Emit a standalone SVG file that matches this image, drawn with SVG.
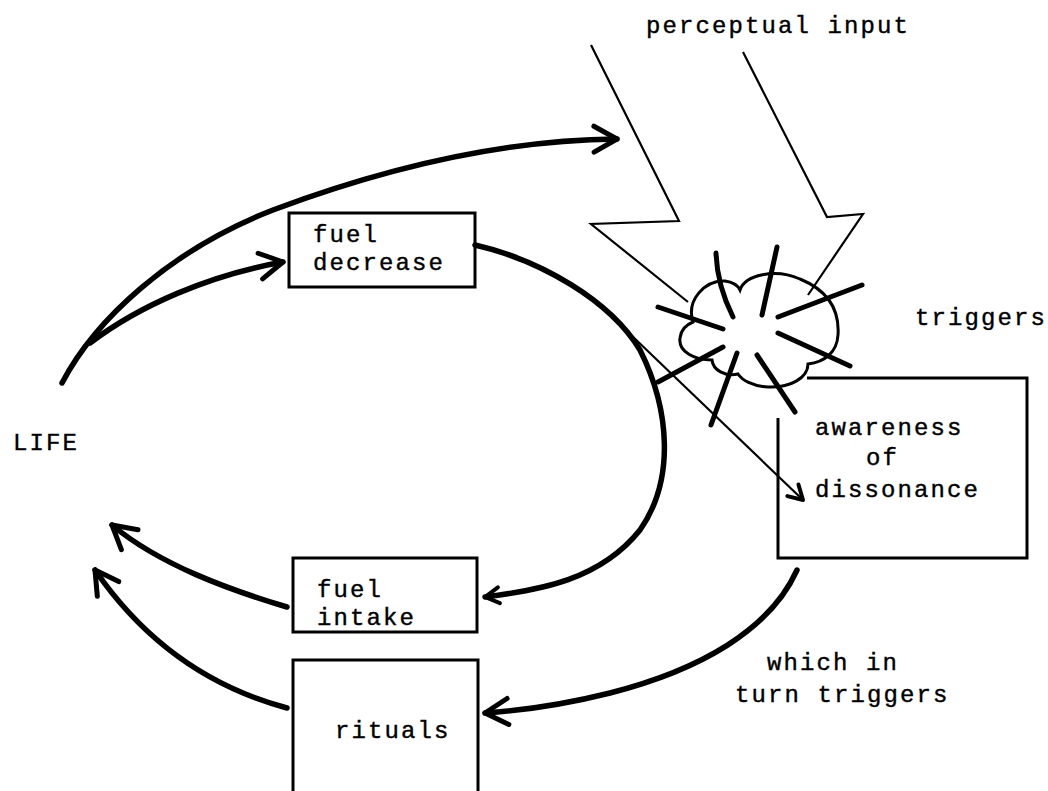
<svg xmlns="http://www.w3.org/2000/svg" width="1048" height="791" viewBox="0 0 1048 791">
<style>
.t{font-family:"Liberation Mono","Courier New",monospace;font-size:24px;letter-spacing:2.1px;fill:#000;stroke:#000;stroke-width:0.4}
.box{fill:none;stroke:#000;stroke-width:3}
.thick{fill:none;stroke:#000;stroke-width:5.5;stroke-linecap:round;stroke-linejoin:round}
.thin{fill:none;stroke:#000;stroke-width:2.2;stroke-linejoin:miter}
.ray{fill:none;stroke:#000;stroke-width:5;stroke-linecap:round}
</style>
<defs>
<marker id="ah" markerUnits="userSpaceOnUse" markerWidth="40" markerHeight="40" viewBox="-30 -20 40 40" refX="0" refY="0" orient="auto" overflow="visible">
<path d="M-23,-13 L0,0 L-23,13" fill="none" stroke="#000" stroke-width="5" stroke-linecap="round" stroke-linejoin="round"/>
</marker>
<marker id="ahs" markerUnits="userSpaceOnUse" markerWidth="30" markerHeight="30" viewBox="-20 -15 30 30" refX="0" refY="0" orient="auto" overflow="visible">
<path d="M-14,-8 L0,0 L-14,8" fill="none" stroke="#000" stroke-width="4" stroke-linecap="round" stroke-linejoin="round"/>
</marker>
</defs>
<rect width="1048" height="791" fill="#fff"/>

<g id="perceptual-input">
<text class="t" x="646" y="33">perceptual input</text>
<polyline class="thin" points="591,45 679,221 591,224 688,302"/>
<polyline class="thin" points="743,52 827,217 863,214 808,295"/>
</g>

<g id="burst">
<path class="box" stroke-width="4" d="M693,322 C686,300 705,280 725,281 C733,282 738,286 740,290 C745,275 775,268 800,279 C822,288 840,305 838,335 C837,352 825,362 808,364 C808,378 790,388 768,387 C752,386 742,380 738,374 C725,377 713,370 712,360 C695,360 678,352 680,338 C681,328 688,324 693,322 Z"/>
<path class="ray" d="M716,253 Q717,285 733,317"/>
<path class="ray" d="M777,247 L762,315"/>
<path class="ray" d="M862,285 L778,317"/>
<path class="ray" d="M778,333 L850,366"/>
<path class="ray" d="M757,355 L795,412"/>
<path class="ray" d="M737,353 L711,425"/>
<path class="ray" d="M723,347 L658,382"/>
<path class="ray" d="M658,307 L723,329"/>
</g>

<g id="life">
<text class="t" x="13" y="450">LIFE</text>
</g>

<g id="fuel-decrease">
<rect class="box" x="289" y="213" width="186" height="74"/>
<text class="t" x="313" y="242">fuel</text>
<text class="t" x="313" y="270">decrease</text>
</g>

<g id="fuel-intake">
<rect class="box" x="293" y="558" width="184" height="74"/>
<text class="t" x="317" y="597">fuel</text>
<text class="t" x="317" y="625">intake</text>
</g>

<g id="rituals">
<path class="box" d="M293,800 V660 H478 V800"/>
<text class="t" x="335" y="738">rituals</text>
</g>

<g id="awareness">
<path class="box" d="M807,378 H1027 V558 H778 V418"/>
<text class="t" x="815" y="435">awareness</text>
<text class="t" x="866" y="465">of</text>
<text class="t" x="815" y="497">dissonance</text>
</g>

<g id="labels">
<text class="t" x="915" y="325">triggers</text>
<text class="t" x="767" y="670">which in</text>
<text class="t" x="735" y="702">turn triggers</text>
</g>

<g id="connectors">
<path class="thick" d="M62,383 C95,320 170,250 273,210 C380,170 500,140 617,139" marker-end="url(#ah)"/>
<path class="thick" d="M90,343 C140,305 210,275 283,262" marker-end="url(#ah)"/>
<path class="thick" d="M475,245 C540,260 610,300 640,350 C670,410 675,480 640,530 C600,580 540,590 485,597" marker-end="url(#ahs)"/>
<path class="thin" d="M630,334 L803,500" marker-end="url(#ahs)"/>
<path class="thick" d="M797,570 C770,630 700,670 610,693 C570,703 530,710 485,713" marker-end="url(#ah)"/>
<path class="thick" d="M287,607 C230,590 160,565 112,525" marker-end="url(#ah)"/>
<path class="thick" d="M287,708 C220,690 150,650 95,570" marker-end="url(#ah)"/>
</g>
</svg>
